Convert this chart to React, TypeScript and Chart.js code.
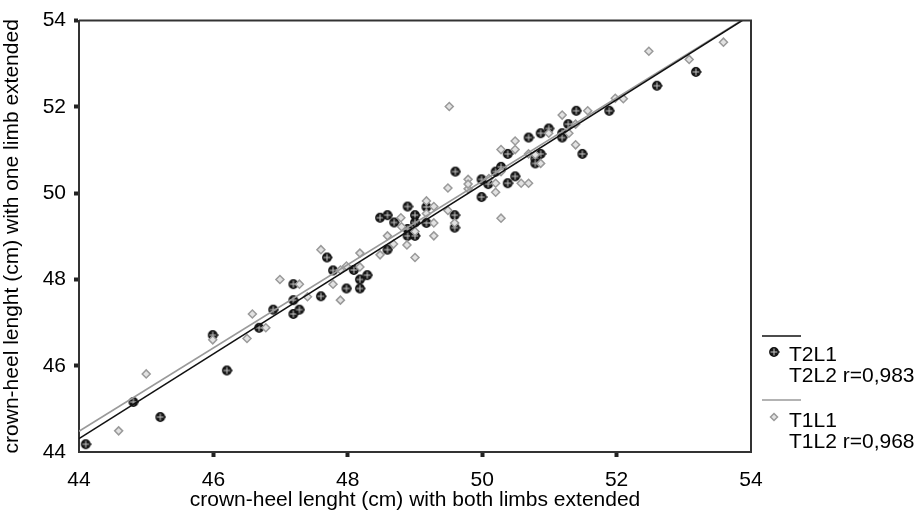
import React, { useEffect, useRef } from "react";
import { Chart, registerables } from "chart.js";

Chart.register(...registerables);

// ---- data ----
const T2L1_X = [44.10, 44.81, 45.21, 46.20, 45.99, 46.68, 46.89, 47.19, 47.28, 47.19, 47.19, 47.60, 47.69, 47.78, 47.98, 48.09, 48.18, 48.18, 48.29, 48.48, 48.59, 48.69, 48.59, 48.89, 49.00, 49.00, 48.89, 48.89, 49.00, 49.17, 49.17, 49.59, 49.59, 49.60, 49.99, 50.09, 49.99, 50.20, 50.28, 50.38, 50.38, 50.49, 50.69, 50.87, 50.99, 51.19, 51.19, 51.28, 51.40, 51.89, 50.87, 50.79, 50.79, 51.49, 52.60, 53.18];
const T2L1_Y = [44.18, 45.16, 44.81, 45.89, 46.71, 46.88, 47.30, 47.20, 47.30, 47.52, 47.89, 47.61, 48.51, 48.21, 47.79, 48.22, 48.00, 47.79, 48.10, 49.43, 49.49, 49.32, 48.69, 49.69, 49.49, 49.32, 49.17, 49.01, 49.01, 49.68, 49.31, 49.49, 49.20, 50.50, 50.32, 50.21, 49.91, 50.50, 50.61, 50.91, 50.23, 50.39, 51.29, 51.39, 51.50, 51.39, 51.29, 51.60, 51.91, 51.91, 50.91, 50.80, 50.69, 50.91, 52.49, 52.81];

const T1L1_X = [44.59, 45.00, 45.99, 46.50, 46.58, 46.78, 46.99, 47.28, 47.40, 47.60, 47.78, 47.89, 47.89, 47.98, 48.18, 48.18, 48.48, 48.59, 48.68, 48.79, 48.80, 48.88, 49.00, 49.00, 49.17, 49.17, 49.28, 49.28, 49.28, 49.49, 49.49, 49.59, 49.79, 49.79, 49.79, 50.20, 50.20, 50.28, 50.28, 50.49, 50.49, 50.58, 50.69, 50.69, 50.79, 50.87, 50.99, 51.29, 51.39, 51.19, 51.39, 51.57, 51.98, 52.10, 52.48, 53.08, 53.59, 50.28, 49.51, 50.10];
const T1L1_Y = [44.49, 45.81, 46.60, 46.63, 47.20, 46.88, 48.00, 47.89, 47.60, 48.69, 47.89, 47.52, 48.22, 48.31, 48.61, 48.29, 48.57, 49.01, 48.82, 49.43, 49.22, 48.80, 48.51, 49.11, 49.82, 49.53, 49.69, 49.31, 49.01, 50.12, 49.60, 49.31, 50.10, 50.32, 50.21, 50.23, 50.02, 50.50, 51.01, 51.21, 51.01, 50.23, 50.23, 50.91, 50.89, 50.69, 51.39, 51.39, 51.12, 51.81, 51.60, 51.91, 52.20, 52.19, 53.29, 53.10, 53.50, 49.42, 52.01, 50.34];

// fit lines (T2L2 / T1L2), endpoints of the regression lines
const FIT_X = [44, 54];
const FIT_T2_Y = [44.31, 54.13];
const FIT_T1_Y = [44.48, 54.14];

const AXIS_MIN = 44;
const AXIS_MAX = 54;
const AXIS_STEP = 2;

const LEGEND_LABELS = ["T2L1", "T2L2 r=0,983", "T1L1", "T1L2 r=0,968"];
const X_TITLE = "crown-heel lenght (cm) with both limbs extended";
const Y_TITLE = "crown-heel lenght (cm) with one limb extended";

const FONT_FAMILY = "'Liberation Sans', Arial, Helvetica, sans-serif";
const FONT_SIZE = 21;

function makeCircleMarker(): HTMLCanvasElement {
  const c = document.createElement("canvas");
  c.width = 12;
  c.height = 12;
  const g = c.getContext("2d")!;
  g.fillStyle = "#1a1a1a";
  g.strokeStyle = "#111111";
  g.lineWidth = 1.4;
  g.beginPath();
  g.arc(6, 6, 4.2, 0, Math.PI * 2);
  g.fill();
  g.stroke();
  g.strokeStyle = "#c8c8c8";
  g.lineWidth = 1;
  g.beginPath();
  g.moveTo(2.5, 6);
  g.lineTo(9.5, 6);
  g.moveTo(6, 2.5);
  g.lineTo(6, 9.5);
  g.stroke();
  g.strokeStyle = "#111111";
  g.lineWidth = 1.2;
  g.beginPath();
  g.moveTo(9.5, 6);
  g.lineTo(11.8, 6);
  g.stroke();
  return c;
}

function drawDiamond(ctx: CanvasRenderingContext2D, x: number, y: number, r: number) {
  ctx.save();
  ctx.fillStyle = "#e2e2e2";
  ctx.strokeStyle = "#9a9a9a";
  ctx.lineWidth = 1.5;
  ctx.beginPath();
  ctx.moveTo(x, y - r);
  ctx.lineTo(x + r, y);
  ctx.lineTo(x, y + r);
  ctx.lineTo(x - r, y);
  ctx.closePath();
  ctx.fill();
  ctx.stroke();
  ctx.restore();
}

export default function App() {
  const ref = useRef<HTMLCanvasElement | null>(null);

  useEffect(() => {
    if (!ref.current) return;
    const marker = makeCircleMarker();

    const framePlugin = {
      id: "frame",
      afterDatasetsDraw(chart: any) {
        const { ctx, chartArea } = chart;
        ctx.save();
        ctx.strokeStyle = "#333333";
        ctx.lineWidth = 2;
        ctx.beginPath();
        ctx.moveTo(chartArea.left, chartArea.top);
        ctx.lineTo(chartArea.right, chartArea.top);
        ctx.lineTo(chartArea.right, chartArea.bottom);
        ctx.stroke();
        ctx.restore();
      },
    };

    const legendPlugin = {
      id: "customLegend",
      afterDraw(chart: any) {
        const ctx: CanvasRenderingContext2D = chart.ctx;
        const x0 = chart.chartArea.right + 11;
        const tx = x0 + 27;
        ctx.save();
        ctx.font = `${FONT_SIZE}px ${FONT_FAMILY}`;
        ctx.textBaseline = "middle";
        ctx.textAlign = "left";
        ctx.fillStyle = "#000";
        // T2 group
        ctx.strokeStyle = "#111";
        ctx.lineWidth = 1.5;
        ctx.beginPath();
        ctx.moveTo(x0, 336);
        ctx.lineTo(x0 + 39, 336);
        ctx.stroke();
        ctx.drawImage(marker, x0 + 12 - 6, 352 - 6);
        ctx.fillText(LEGEND_LABELS[0], tx, 355);
        ctx.fillText(LEGEND_LABELS[1], tx, 376);
        // T1 group
        ctx.strokeStyle = "#9a9a9a";
        ctx.beginPath();
        ctx.moveTo(x0, 400);
        ctx.lineTo(x0 + 39, 400);
        ctx.stroke();
        drawDiamond(ctx, x0 + 12, 417, 3.5);
        ctx.fillText(LEGEND_LABELS[2], tx, 421);
        ctx.fillText(LEGEND_LABELS[3], tx, 442);
        ctx.restore();
      },
    };

    const hideEdgeTick = (hideMax: boolean) => (c: any) => {
      const v = c.tick ? c.tick.value : null;
      if (v === AXIS_MIN) return "rgba(0,0,0,0)";
      if (hideMax && v === AXIS_MAX) return "rgba(0,0,0,0)";
      return "#222222";
    };

    const chart = new Chart(ref.current, {
      type: "scatter",
      data: {
        datasets: [
          {
            label: LEGEND_LABELS[0],
            data: T2L1_X.map((x, i) => ({ x, y: T2L1_Y[i] })),
            pointStyle: marker as any,
            pointRadius: 5,
            order: 3,
          },
          {
            label: LEGEND_LABELS[2],
            data: T1L1_X.map((x, i) => ({ x, y: T1L1_Y[i] })),
            pointStyle: "rectRot",
            pointRadius: 4,
            borderWidth: 1.5,
            borderColor: "#9a9a9a",
            backgroundColor: "#e2e2e2",
            order: 2,
          },
          {
            type: "line" as any,
            label: LEGEND_LABELS[3],
            data: FIT_X.map((x, i) => ({ x, y: FIT_T1_Y[i] })),
            borderColor: "#9a9a9a",
            borderWidth: 1.6,
            pointRadius: 0,
            showLine: true,
            fill: false,
            order: 1,
          },
          {
            type: "line" as any,
            label: LEGEND_LABELS[1],
            data: FIT_X.map((x, i) => ({ x, y: FIT_T2_Y[i] })),
            borderColor: "#111111",
            borderWidth: 1.6,
            pointRadius: 0,
            showLine: true,
            fill: false,
            order: 0,
          },
        ],
      },
      options: {
        animation: false,
        responsive: false,
        devicePixelRatio: 1,
        layout: { padding: { left: 0, top: 14, right: 167, bottom: 0 } },
        plugins: { legend: { display: false }, tooltip: { enabled: false } },
        scales: {
          x: {
            type: "linear",
            min: AXIS_MIN,
            max: AXIS_MAX,
            afterFit: (s: any) => {
              s.height = 66;
            },
            ticks: {
              stepSize: AXIS_STEP,
              color: "#000",
              padding: 11,
              font: { family: FONT_FAMILY, size: FONT_SIZE },
            },
            grid: {
              drawOnChartArea: false,
              drawTicks: true,
              tickLength: 5,
              tickWidth: 4,
              tickColor: hideEdgeTick(true) as any,
            },
            border: { display: true, color: "#333333", width: 2 },
            title: {
              display: true,
              text: X_TITLE,
              color: "#000",
              font: { family: FONT_FAMILY, size: FONT_SIZE },
              padding: { top: 0, bottom: 5 },
            },
          },
          y: {
            type: "linear",
            min: AXIS_MIN,
            max: AXIS_MAX,
            afterFit: (s: any) => {
              s.width = 79;
            },
            ticks: {
              stepSize: AXIS_STEP,
              color: "#000",
              padding: 8,
              font: { family: FONT_FAMILY, size: FONT_SIZE },
            },
            grid: {
              drawOnChartArea: false,
              drawTicks: true,
              tickLength: 5,
              tickWidth: 4,
              tickColor: hideEdgeTick(false) as any,
            },
            border: { display: true, color: "#333333", width: 2 },
            title: {
              display: true,
              text: Y_TITLE,
              color: "#000",
              font: { family: FONT_FAMILY, size: FONT_SIZE },
              padding: { top: 0, bottom: 0 },
            },
          },
        },
      },
      plugins: [framePlugin, legendPlugin],
    });

    return () => chart.destroy();
  }, []);

  return (
    <div style={{ position: "fixed", left: 0, top: 0, width: 918, height: 518, background: "#fff" }}>
      <canvas ref={ref} width={918} height={518} style={{ display: "block" }} />
    </div>
  );
}
